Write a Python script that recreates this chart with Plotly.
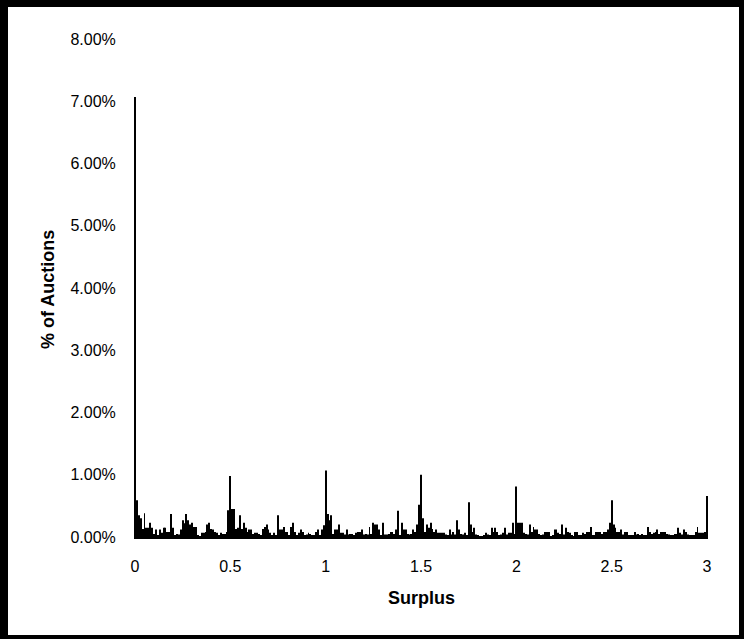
import plotly.graph_objects as go

# Histogram bins: surplus from 0.00 to 3.00 in steps of 0.01
surplus_bins = [round(i * 0.01, 2) for i in range(301)]

# % of auctions per bin
pct_auctions = [
    7.07, 0.59, 0.35, 0.30, 0.13, 0.38, 0.15, 0.15, 0.23, 0.15,
    0.05, 0.12, 0.03, 0.12, 0.07, 0.15, 0.15, 0.08, 0.08, 0.37,
    0.15, 0.02, 0.05, 0.04, 0.12, 0.27, 0.22, 0.37, 0.27, 0.20,
    0.23, 0.16, 0.16, 0.02, 0.01, 0.07, 0.07, 0.08, 0.20, 0.23,
    0.13, 0.12, 0.08, 0.07, 0.02, 0.07, 0.05, 0.05, 0.08, 0.43,
    0.98, 0.45, 0.45, 0.13, 0.15, 0.35, 0.13, 0.23, 0.15, 0.08,
    0.12, 0.12, 0.05, 0.07, 0.07, 0.05, 0.02, 0.13, 0.16, 0.20,
    0.12, 0.07, 0.02, 0.07, 0.02, 0.35, 0.12, 0.12, 0.16, 0.08,
    0.08, 0.02, 0.16, 0.23, 0.08, 0.02, 0.07, 0.12, 0.08, 0.02,
    0.04, 0.07, 0.05, 0.02, 0.02, 0.08, 0.12, 0.02, 0.12, 0.19,
    1.07, 0.37, 0.27, 0.35, 0.05, 0.12, 0.12, 0.20, 0.07, 0.07,
    0.04, 0.12, 0.04, 0.05, 0.05, 0.02, 0.07, 0.08, 0.08, 0.12,
    0.04, 0.05, 0.04, 0.16, 0.05, 0.23, 0.20, 0.20, 0.12, 0.02,
    0.23, 0.04, 0.04, 0.05, 0.08, 0.08, 0.05, 0.12, 0.42, 0.02,
    0.23, 0.12, 0.12, 0.05, 0.04, 0.05, 0.12, 0.08, 0.20, 0.52,
    1.00, 0.30, 0.08, 0.20, 0.15, 0.23, 0.13, 0.08, 0.12, 0.07,
    0.07, 0.07, 0.07, 0.04, 0.02, 0.12, 0.04, 0.08, 0.04, 0.27,
    0.12, 0.05, 0.04, 0.07, 0.02, 0.56, 0.20, 0.08, 0.15, 0.04,
    0.02, 0.01, 0.01, 0.02, 0.07, 0.04, 0.02, 0.15, 0.08, 0.15,
    0.08, 0.03, 0.04, 0.07, 0.15, 0.04, 0.07, 0.07, 0.23, 0.05,
    0.81, 0.23, 0.23, 0.23, 0.07, 0.05, 0.04, 0.20, 0.08, 0.16,
    0.12, 0.12, 0.05, 0.02, 0.04, 0.08, 0.08, 0.08, 0.01, 0.03,
    0.12, 0.12, 0.07, 0.05, 0.20, 0.04, 0.15, 0.08, 0.07, 0.03,
    0.01, 0.08, 0.08, 0.03, 0.02, 0.07, 0.05, 0.08, 0.08, 0.16,
    0.03, 0.03, 0.08, 0.08, 0.08, 0.05, 0.08, 0.08, 0.12, 0.23,
    0.59, 0.20, 0.15, 0.08, 0.08, 0.12, 0.04, 0.08, 0.08, 0.02,
    0.02, 0.02, 0.08, 0.04, 0.05, 0.02, 0.05, 0.02, 0.03, 0.16,
    0.08, 0.05, 0.07, 0.08, 0.12, 0.05, 0.08, 0.08, 0.08, 0.05,
    0.04, 0.03, 0.02, 0.05, 0.05, 0.15, 0.07, 0.04, 0.12, 0.08,
    0.04, 0.02, 0.02, 0.02, 0.08, 0.16, 0.07, 0.07, 0.07, 0.08,
    0.66,
]

x_tick_vals = [0, 0.5, 1, 1.5, 2, 2.5, 3]
x_tick_text = ["0", "0.5", "1", "1.5", "2", "2.5", "3"]
y_tick_vals = [0, 1, 2, 3, 4, 5, 6, 7, 8]
y_tick_text = ["0.00%", "1.00%", "2.00%", "3.00%", "4.00%",
               "5.00%", "6.00%", "7.00%", "8.00%"]

W, H = 744, 639
L, R, T, B = 134, 708, 39, 537  # plot area in pixels

def px_x(p):
    return (p - L) / (R - L)

def px_y(p):
    return (B - p) / (B - T)

fig = go.Figure(go.Bar(
    x=surplus_bins, y=pct_auctions,
    marker=dict(color="black", line=dict(width=0)),
))

font = "Liberation Sans, Arial, sans-serif"

# outer black border
border = [
    (0, 0, 8, H),      # left
    (0, 0, W, 7),      # top
    (739, 0, W, H),    # right
    (0, 635, W, H),    # bottom
]
shapes = []
for x0, y0, x1, y1 in border:
    shapes.append(dict(type="rect", xref="paper", yref="paper",
                       x0=px_x(x0), x1=px_x(x1), y0=px_y(y1), y1=px_y(y0),
                       fillcolor="black", line=dict(width=0), layer="above"))

fig.update_layout(
    width=W, height=H,
    margin=dict(l=L, r=W - R, t=T, b=H - B, pad=0),
    paper_bgcolor="white", plot_bgcolor="white",
    bargap=0.5,
    showlegend=False,
    font=dict(family=font, size=16, color="black"),
    shapes=shapes,
    annotations=[
        dict(text="<b>Surplus</b>", xref="paper", yref="paper",
             x=px_x(421), y=px_y(598), xanchor="center", yanchor="middle",
             showarrow=False, font=dict(family=font, size=18, color="black")),
        dict(text="<b>% of Auctions</b>", xref="paper", yref="paper",
             x=px_x(48), y=px_y(290), xanchor="center", yanchor="middle",
             textangle=-90, showarrow=False,
             font=dict(family=font, size=18, color="black")),
    ],
)

fig.update_xaxes(
    range=[-0.005, 3.005],
    tickvals=x_tick_vals, ticktext=x_tick_text,
    showline=True, linecolor="black", linewidth=2,
    showgrid=False, zeroline=False,
    ticks="outside", ticklen=14, tickcolor="rgba(0,0,0,0)",
    tickfont=dict(family=font, size=16, color="black"),
)
fig.update_yaxes(
    range=[0, 8],
    tickvals=y_tick_vals, ticktext=y_tick_text,
    showline=False, showgrid=False, zeroline=False,
    ticks="outside", ticklen=14, tickcolor="rgba(0,0,0,0)",
    tickfont=dict(family=font, size=16, color="black"),
)

fig.write_html(
    "out.html",
    config={"displayModeBar": False},
    post_script="document.body.style.margin='0';document.body.style.overflow='hidden';",
)
